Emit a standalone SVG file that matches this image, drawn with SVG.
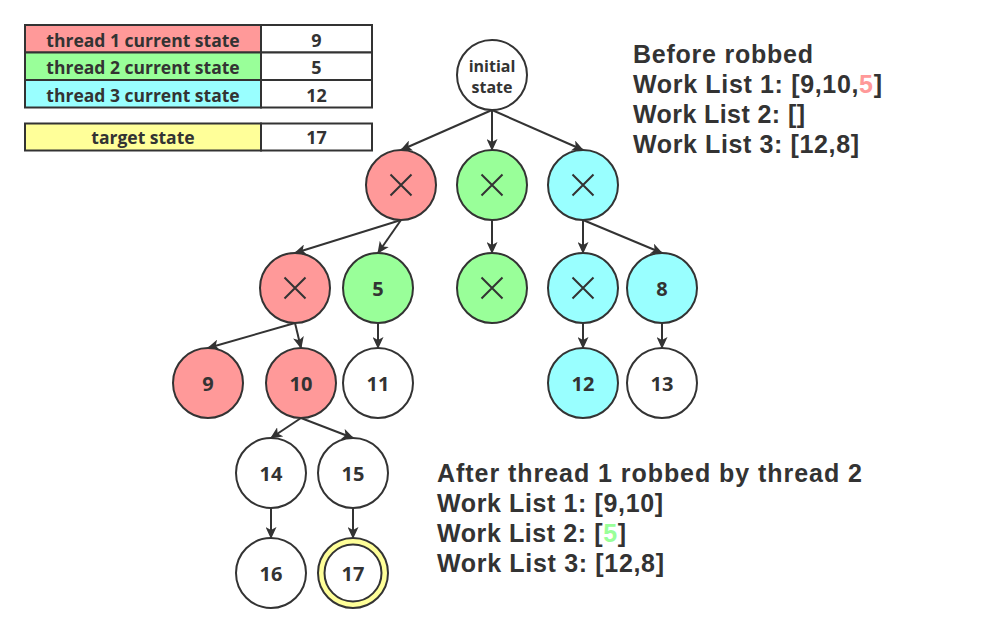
<svg xmlns="http://www.w3.org/2000/svg" width="983" height="633" viewBox="0 0 983 633">
<style>
text{font-family:"Open Sans","Noto Sans","Liberation Sans",sans-serif;font-weight:bold;fill:#333333}
.c{fill:#fff;stroke:#333;stroke-width:2}
.red{fill:#FF9999}.grn{fill:#99FF99}.cyn{fill:#99FFFF}.yel{fill:#FFFF99}
.x{stroke:#333;stroke-width:2;fill:none}
.e{stroke:#333;stroke-width:2;fill:none;marker-end:url(#arr)}
.cell{stroke:#333;stroke-width:2}
.tt{font-size:17.5px;text-anchor:middle}
.tn{font-size:18px;text-anchor:middle}
.n{font-size:20px;text-anchor:middle}
text.big{font-family:"Liberation Sans","Arimo",sans-serif;font-size:25px}
</style>
<defs>
<marker id="arr" markerUnits="userSpaceOnUse" markerWidth="12" markerHeight="11" viewBox="0 0 12 11" refX="11" refY="5.5" orient="auto">
<path d="M0,0 L12,5.5 L0,11 L3,5.5 z" fill="#333"/>
</marker>
</defs>
<g id="table">
<rect class="cell red" x="25" y="25" width="236" height="27.5"/>
<rect class="cell" fill="#fff" x="261" y="25" width="111" height="27.5"/>
<rect class="cell grn" x="25" y="52.5" width="236" height="27.5"/>
<rect class="cell" fill="#fff" x="261" y="52.5" width="111" height="27.5"/>
<rect class="cell cyn" x="25" y="80" width="236" height="27.5"/>
<rect class="cell" fill="#fff" x="261" y="80" width="111" height="27.5"/>
<rect class="cell yel" x="25" y="123.5" width="236" height="27"/>
<rect class="cell" fill="#fff" x="261" y="123.5" width="111" height="27"/>
<text class="tt" x="143" y="46.5">thread 1 current state</text>
<text class="tn" x="316.5" y="46.5">9</text>
<text class="tt" x="143" y="74">thread 2 current state</text>
<text class="tn" x="316.5" y="74">5</text>
<text class="tt" x="143" y="102">thread 3 current state</text>
<text class="tn" x="316.5" y="102">12</text>
<text class="tt" x="143" y="144">target state</text>
<text class="tn" x="316.5" y="144">17</text>
</g>
<g id="connectors">
<line class="e" x1="492" y1="110" x2="401" y2="150"/>
<line class="e" x1="492" y1="110" x2="492" y2="150"/>
<line class="e" x1="492" y1="110" x2="583" y2="150"/>
<line class="e" x1="401" y1="220" x2="295" y2="253"/>
<line class="e" x1="401" y1="220" x2="378" y2="253"/>
<line class="e" x1="492" y1="220" x2="492" y2="253"/>
<line class="e" x1="583" y1="220" x2="583" y2="253"/>
<line class="e" x1="583" y1="220" x2="662" y2="253"/>
<line class="e" x1="295" y1="323" x2="208" y2="348"/>
<line class="e" x1="295" y1="323" x2="301" y2="348"/>
<line class="e" x1="378" y1="323" x2="378" y2="348"/>
<line class="e" x1="583" y1="323" x2="583" y2="348"/>
<line class="e" x1="662" y1="323" x2="662" y2="348"/>
<line class="e" x1="301" y1="418" x2="271" y2="438"/>
<line class="e" x1="301" y1="418" x2="353" y2="438"/>
<line class="e" x1="271" y1="508" x2="271" y2="538"/>
<line class="e" x1="353" y1="508" x2="353" y2="538"/>
</g>
<g id="n-initial">
<circle class="c" cx="492" cy="75" r="35"/>
<text x="492" y="72" style="font-size:16px;text-anchor:middle">initial</text>
<text x="492" y="93" style="font-size:16px;text-anchor:middle">state</text>
</g>
<g id="n-r1"><circle class="c red" cx="401" cy="185" r="35"/><path class="x" d="M390.5,174.5 L411.5,195.5 M411.5,174.5 L390.5,195.5"/></g>
<g id="n-g1"><circle class="c grn" cx="492" cy="185" r="35"/><path class="x" d="M481.5,174.5 L502.5,195.5 M502.5,174.5 L481.5,195.5"/></g>
<g id="n-c1"><circle class="c cyn" cx="583" cy="185" r="35"/><path class="x" d="M572.5,174.5 L593.5,195.5 M593.5,174.5 L572.5,195.5"/></g>
<g id="n-r2"><circle class="c red" cx="295" cy="288" r="35"/><path class="x" d="M284.5,277.5 L305.5,298.5 M305.5,277.5 L284.5,298.5"/></g>
<g id="n-5"><circle class="c grn" cx="378" cy="288" r="35"/><text class="n" x="378" y="295.5">5</text></g>
<g id="n-g2"><circle class="c grn" cx="492" cy="288" r="35"/><path class="x" d="M481.5,277.5 L502.5,298.5 M502.5,277.5 L481.5,298.5"/></g>
<g id="n-c2"><circle class="c cyn" cx="583" cy="288" r="35"/><path class="x" d="M572.5,277.5 L593.5,298.5 M593.5,277.5 L572.5,298.5"/></g>
<g id="n-8"><circle class="c cyn" cx="662" cy="288" r="35"/><text class="n" x="662" y="295.5">8</text></g>
<g id="n-9"><circle class="c red" cx="208" cy="383" r="35"/><text class="n" x="208" y="390.5">9</text></g>
<g id="n-10"><circle class="c red" cx="301" cy="383" r="35"/><text class="n" x="301" y="390.5">10</text></g>
<g id="n-11"><circle class="c" cx="378" cy="383" r="35"/><text class="n" x="378" y="390.5">11</text></g>
<g id="n-12"><circle class="c cyn" cx="583" cy="383" r="35"/><text class="n" x="583" y="390.5">12</text></g>
<g id="n-13"><circle class="c" cx="662" cy="383" r="35"/><text class="n" x="662" y="390.5">13</text></g>
<g id="n-14"><circle class="c" cx="271" cy="473" r="35"/><text class="n" x="271" y="480.5">14</text></g>
<g id="n-15"><circle class="c" cx="353" cy="473" r="35"/><text class="n" x="353" y="480.5">15</text></g>
<g id="n-16"><circle class="c" cx="271" cy="573" r="35"/><text class="n" x="271" y="580.5">16</text></g>
<g id="n-17"><circle class="c yel" cx="353" cy="573" r="35"/><circle class="c" cx="353" cy="573" r="28.5"/><text class="n" x="353" y="580.5">17</text></g>
<g id="before">
<text class="big" x="633" y="63" textLength="180" lengthAdjust="spacing">Before robbed</text>
<text class="big" x="633" y="93" textLength="249" lengthAdjust="spacing">Work List 1: [9,10,<tspan fill="#FF9999">5</tspan>]</text>
<text class="big" x="633" y="123" textLength="172" lengthAdjust="spacing">Work List 2: []</text>
<text class="big" x="633" y="153" textLength="226" lengthAdjust="spacing">Work List 3: [12,8]</text>
</g>
<g id="after">
<text class="big" x="437" y="482" textLength="425" lengthAdjust="spacing">After thread 1 robbed by thread 2</text>
<text class="big" x="437" y="512" textLength="226" lengthAdjust="spacing">Work List 1: [9,10]</text>
<text class="big" x="437" y="542" textLength="189" lengthAdjust="spacing">Work List 2: [<tspan fill="#99FF99">5</tspan>]</text>
<text class="big" x="437" y="572" textLength="227" lengthAdjust="spacing">Work List 3: [12,8]</text>
</g>
</svg>
